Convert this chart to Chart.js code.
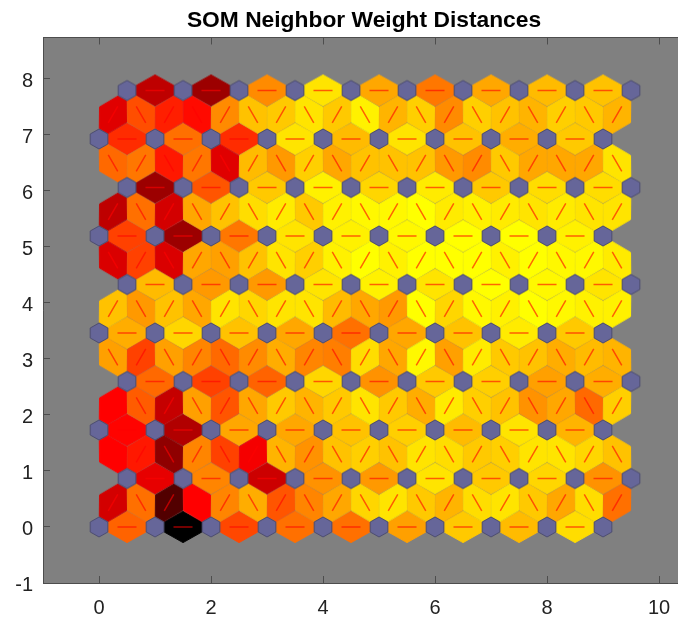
<!DOCTYPE html>
<html>
<head>
<meta charset="utf-8">
<title>SOM Neighbor Weight Distances</title>
<script src="https://cdn.jsdelivr.net/npm/chart.js@4"></script>
<style>
  body { margin: 0; background: #fff; }
  canvas { display: block; }
</style>
</head>
<body>
<canvas id="somChart" width="678" height="621"></canvas>
<script>
  const chartTitle = 'SOM Neighbor Weight Distances';
  const xTickValues = [0, 2, 4, 6, 8, 10];
  const yTickValues = [-1, 0, 1, 2, 3, 4, 5, 6, 7, 8];
  const gridSize = 10;

  // heat: 0 black, 37.5 red, 75 yellow
  // links along a row, bottom row first
  const rowHeat = [
    [52, 0, 48, 54, 54, 61, 67, 65, 70],
    [34, 57, 30, 59, 60, 71, 67, 69, 59],
    [38, 26, 62, 62, 66, 68, 65, 71, 64],
    [53, 47, 52, 69, 59, 67, 68, 61, 63],
    [63, 69, 66, 62, 54, 62, 66, 72, 67],
    [65, 60, 60, 71, 73, 71, 75, 74, 71],
    [47, 23, 55, 71, 73, 74, 75, 75, 73],
    [23, 50, 67, 73, 69, 72, 67, 70, 70],
    [44, 54, 44, 71, 65, 71, 66, 63, 67],
    [28, 23, 58, 71, 62, 55, 62, 65, 66]
  ];
  // links between one row and the next, left to right
  const diagHeat = [
    [31, 54, 12, 37.5, 57, 63, 50, 57, 62, 69, 71, 67, 64, 70, 71, 67, 62, 70, 54],
    [37.5, 41, 21, 57, 47, 36, 64, 59, 66, 68, 66, 71, 70, 67, 68, 71, 71, 69, 66],
    [37.5, 51, 29, 61, 50, 62, 67, 64, 67, 71, 67, 63, 72, 68, 66, 59, 62, 53, 68],
    [61, 47, 61, 57, 53, 58, 63, 57, 56, 70, 62, 74, 61, 72, 67, 66, 63, 65, 64],
    [66, 60, 66, 62, 71, 69, 71, 71, 65, 62, 60, 75, 69, 74, 73, 75, 74, 73, 73],
    [32, 47, 32, 62, 61, 66, 71, 68, 73, 75, 73, 75, 75, 75, 73, 75, 74, 74, 72],
    [28, 54, 31, 62, 66, 70, 72, 67, 73, 74, 74, 75, 72, 73, 72, 71, 72, 71, 71],
    [53, 55, 41, 55, 33, 65, 60, 68, 62, 66, 66, 66, 60, 58, 67, 62, 62, 62, 71],
    [33, 49, 42, 39, 58, 66, 67, 71, 67, 73, 64, 68, 58, 68, 66, 64, 68, 67, 64]
  ];

  const rowStep = Math.sqrt(0.75);
  const rowOffset = (k) => (k % 2 ? 0.5 : 0);

  // matlab hot colormap
  function hotColor(heat) {
    const t = heat / 100;
    const clamp = (v) => Math.max(0, Math.min(1, v));
    const r = Math.round(255 * clamp(t / 0.375));
    const g = Math.round(255 * clamp((t - 0.375) / 0.375));
    const b = Math.round(255 * clamp((t - 0.75) / 0.25));
    return `rgb(${r},${g},${b})`;
  }

  const neurons = [];
  for (let k = 0; k < gridSize; k++) {
    for (let i = 0; i < gridSize; i++) {
      neurons.push({ x: i + rowOffset(k), y: k * rowStep });
    }
  }

  const cells = [];
  rowHeat.forEach((row, k) => {
    row.forEach((heat, i) => {
      cells.push({ x: i + 0.5 + rowOffset(k), y: k * rowStep, dx: 1, dy: 0, heat });
    });
  });
  diagHeat.forEach((row, k) => {
    row.forEach((heat, m) => {
      const rising = (m % 2 === 0) === (k % 2 === 0);
      cells.push({
        x: 0.25 + m * 0.5,
        y: (k + 0.5) * rowStep,
        dx: rising ? 0.5 : -0.5,
        dy: rowStep,
        heat
      });
    });
  });

  const links = [];
  cells.forEach((c) => {
    links.push({ x: c.x - c.dx * 0.17, y: c.y - c.dy * 0.17 });
    links.push({ x: c.x + c.dx * 0.17, y: c.y + c.dy * 0.17 });
    links.push({ x: NaN, y: NaN });
  });

  // hexagon stamp used as point style
  function hexStamp(points, fill, stroke, lineWidth) {
    const size = 48;
    const stamp = document.createElement('canvas');
    stamp.width = size;
    stamp.height = size;
    const g = stamp.getContext('2d');
    g.translate(size / 2, size / 2);
    g.beginPath();
    points.forEach((p, i) => (i ? g.lineTo(p[0], p[1]) : g.moveTo(p[0], p[1])));
    g.closePath();
    g.fillStyle = fill;
    g.fill();
    g.strokeStyle = stroke;
    g.lineWidth = lineWidth;
    g.stroke();
    return stamp;
  }

  const cellShape = [[-18.8, -5], [0, -15.6], [18.8, -5], [18.8, 5], [0, 15.6], [-18.8, 5]];
  const neuronShape = [[-8.8, -5], [0, -10], [8.8, -5], [8.8, 5], [0, 10], [-8.8, 5]];
  const neuronStamp = hexStamp(neuronShape, '#666699', '#4c4c70', 1);

  const stampCache = {};
  function cellStamp(c) {
    const key = c.heat + '|' + c.dx + '|' + c.dy;
    if (!stampCache[key]) {
      const len = Math.hypot(c.dx, c.dy);
      const cos = c.dx / len;
      const sin = -c.dy / len; // canvas y points down
      const turned = cellShape.map((p) => [p[0] * cos - p[1] * sin, p[0] * sin + p[1] * cos]);
      const color = hotColor(c.heat);
      stampCache[key] = hexStamp(turned, color, color, 1);
    }
    return stampCache[key];
  }

  const axisColor = '#4d4d4d';
  const tickFont = { family: '"Liberation Sans", Arial, sans-serif', size: 20 };

  const plotBackground = {
    id: 'plotBackground',
    afterLayout(chart) {
      // title sits a little right of the axes centre
      chart.titleBlock.left += 3.5;
      chart.titleBlock.right += 3.5;
      // y labels sit a little below their ticks
      chart.scales.y.getLabelItems().forEach((item) => {
        item.options.translation[1] += 2.5;
      });
    },
    beforeDraw(chart) {
      const a = chart.chartArea;
      chart.ctx.save();
      chart.ctx.fillStyle = '#808080';
      chart.ctx.fillRect(a.left, a.top, a.right - a.left, a.bottom - a.top);
      chart.ctx.restore();
    }
  };

  const useTicks = (values) => (scale) => {
    scale.ticks = values.map((value) => ({ value }));
  };
  const noPadding = (scale) => {
    scale.paddingLeft = 0;
    scale.paddingRight = 0;
    scale.paddingTop = 0;
    scale.paddingBottom = 0;
  };

  new Chart(document.getElementById('somChart').getContext('2d'), {
    type: 'scatter',
    data: {
      datasets: [
        {
          label: 'Neighbor distances',
          data: cells,
          order: 3,
          pointRadius: 20,
          pointStyle: (ctx) => cellStamp(ctx.raw)
        },
        {
          label: 'Connections',
          data: links,
          order: 2,
          showLine: true,
          spanGaps: false,
          pointRadius: 0,
          borderColor: 'rgba(255,0,0,0.6)',
          borderWidth: 1.5
        },
        {
          label: 'Neurons',
          data: neurons,
          order: 1,
          pointRadius: 12,
          pointStyle: neuronStamp
        }
      ]
    },
    options: {
      responsive: false,
      animation: false,
      events: [],
      layout: { padding: 0, autoPadding: false },
      plugins: {
        legend: { display: false },
        tooltip: { enabled: false },
        title: {
          display: true,
          text: chartTitle,
          fullSize: false,
          color: '#000',
          font: { family: '"Liberation Sans", Arial, sans-serif', size: 22.8, weight: 'bold', lineHeight: 1.2 },
          padding: { top: 7.5, bottom: 2.6 }
        }
      },
      scales: {
        x: {
          type: 'linear',
          position: 'bottom',
          min: -1,
          max: 10.339,
          afterBuildTicks: useTicks(xTickValues),
          afterFit: (scale) => { scale.height = 38; noPadding(scale); },
          border: { color: axisColor, width: 1 },
          grid: { drawOnChartArea: false, tickLength: -7, color: axisColor },
          ticks: {
            autoSkip: false,
            maxRotation: 0,
            padding: 20,
            color: '#222',
            font: tickFont,
            callback: (v) => String(v)
          }
        },
        xTop: {
          type: 'linear',
          axis: 'x',
          position: 'top',
          min: -1,
          max: 10.339,
          afterBuildTicks: useTicks(xTickValues),
          afterFit: (scale) => { scale.height = 0; noPadding(scale); },
          border: { color: axisColor, width: 1 },
          grid: { drawOnChartArea: false, tickLength: -7, color: axisColor },
          ticks: { display: false }
        },
        y: {
          type: 'linear',
          min: -1,
          max: 8.741,
          afterBuildTicks: useTicks(yTickValues),
          afterFit: (scale) => { scale.width = 43; noPadding(scale); },
          border: { color: axisColor, width: 1 },
          grid: { drawOnChartArea: false, tickLength: -7, color: axisColor },
          ticks: {
            autoSkip: false,
            padding: 17,
            color: '#222',
            font: tickFont,
            callback: (v) => String(v)
          }
        }
      }
    },
    plugins: [plotBackground]
  });
</script>
</body>
</html>
